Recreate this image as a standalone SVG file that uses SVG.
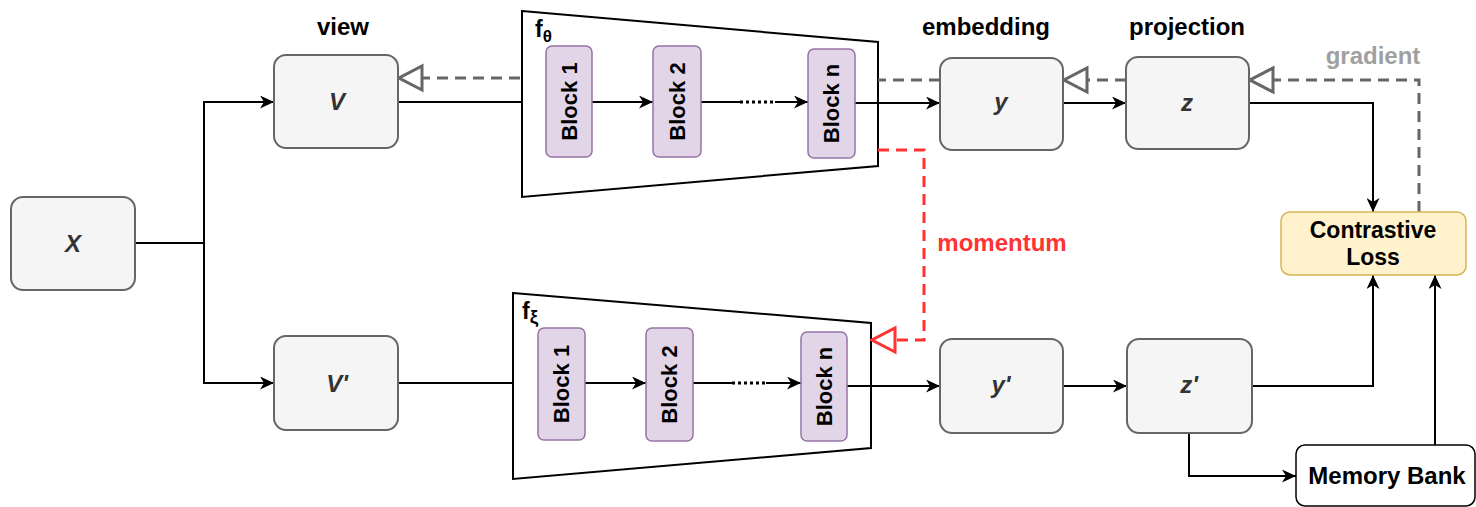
<svg xmlns="http://www.w3.org/2000/svg" width="1476" height="507" viewBox="0 0 1476 507">
  <style>
    .t { font-family: "Liberation Sans", Arial, sans-serif; font-weight: bold; }
    .lbl { font-size: 24px; fill: #000; text-anchor: middle; }
    .var { font-size: 24px; fill: #333; font-style: italic; text-anchor: middle; }
    .blk-t { font-size: 22px; fill: #000; text-anchor: middle; }
    .box { fill: #f5f5f5; stroke: #666; stroke-width: 2; }
    .blk { fill: #e1d5e7; stroke: #9673a6; stroke-width: 1.5; }
    .enc { fill: #fff; stroke: #000; stroke-width: 2; }
    .edge { fill: none; stroke: #000; stroke-width: 2; }
    .dots { fill: none; stroke: #000; stroke-width: 3; stroke-dasharray: 3 3; }
    .grad { fill: none; stroke: #666; stroke-width: 3; stroke-dasharray: 11 7; }
    .mom { fill: none; stroke: #ff3333; stroke-width: 3; stroke-dasharray: 11 7; }
  </style>
  <defs>
    <marker id="arr" markerUnits="userSpaceOnUse" markerWidth="15" markerHeight="13" refX="14" refY="6.5" orient="auto">
      <path d="M0,0 L14,6.5 L0,13 L4,6.5 Z" fill="#000"/>
    </marker>
    <marker id="openGray" markerUnits="userSpaceOnUse" markerWidth="28" markerHeight="30" refX="26" refY="15" orient="auto">
      <path d="M3,3 L26,15 L3,27 Z" fill="#fff" stroke="#666" stroke-width="3"/>
    </marker>
    <marker id="openRed" markerUnits="userSpaceOnUse" markerWidth="28" markerHeight="30" refX="26" refY="15" orient="auto">
      <path d="M3,3 L26,15 L3,27 Z" fill="#fff" stroke="#ff3333" stroke-width="3"/>
    </marker>
  </defs>

  <!-- stage captions -->
  <g id="captions" class="t">
    <text class="lbl" x="343" y="35">view</text>
    <text class="lbl" x="986" y="35">embedding</text>
    <text class="lbl" x="1187" y="35">projection</text>
    <text class="lbl" x="1373" y="64" style="fill:#a0a0a0">gradient</text>
    <text class="lbl" x="1002" y="251" style="fill:#ff3333">momentum</text>
  </g>

  <!-- encoders -->
  <g id="encoder-online">
    <polygon class="enc" points="522,11 878,42 878,166 522,197"/>
    <text class="t" x="535" y="37" font-size="23">f<tspan font-size="17" dy="5">θ</tspan></text>
  </g>
  <g id="encoder-momentum">
    <polygon class="enc" points="513,293 871,323 871,448 513,479"/>
    <text class="t" x="522" y="319" font-size="23">f<tspan font-size="19" dy="4">ξ</tspan></text>
  </g>

  <!-- connectors -->
  <g id="connectors">
    <path class="edge" d="M135,243 H204 V102 H274" marker-end="url(#arr)"/>
    <path class="edge" d="M204,243 V383 H274" marker-end="url(#arr)"/>
    <path class="edge" d="M398,102 H522"/>
    <path class="edge" d="M592,102 H653" marker-end="url(#arr)"/>
    <path class="edge" d="M701,102 H740"/>
    <path class="dots" d="M740,102 H775"/>
    <path class="edge" d="M775,102 H808" marker-end="url(#arr)"/>
    <path class="edge" d="M855,103 H940" marker-end="url(#arr)"/>
    <path class="edge" d="M1063,103 H1126" marker-end="url(#arr)"/>
    <path class="edge" d="M1249,103 H1373 V212" marker-end="url(#arr)"/>

    <path class="edge" d="M398,383 H513"/>
    <path class="edge" d="M585,383 H646" marker-end="url(#arr)"/>
    <path class="edge" d="M693,383 H732"/>
    <path class="dots" d="M732,383 H766"/>
    <path class="edge" d="M766,383 H801" marker-end="url(#arr)"/>
    <path class="edge" d="M847,386 H940" marker-end="url(#arr)"/>
    <path class="edge" d="M1063,386 H1127" marker-end="url(#arr)"/>
    <path class="edge" d="M1252,386 H1373 V275" marker-end="url(#arr)"/>
    <path class="edge" d="M1189,433 V476 H1296" marker-end="url(#arr)"/>
    <path class="edge" d="M1435,445 V275" marker-end="url(#arr)"/>

    <!-- gradient flow (dashed, open heads) -->
    <path class="grad" d="M1419,212 V80 H1250" marker-end="url(#openGray)"/>
    <path class="grad" d="M1126,80 H1064" marker-end="url(#openGray)"/>
    <path class="grad" d="M940,80 H878"/>
    <path class="grad" d="M520,78 H399" marker-end="url(#openGray)"/>

    <!-- momentum update -->
    <path class="mom" d="M878,150 H924 V340 H872" marker-end="url(#openRed)"/>
  </g>

  <!-- nodes -->
  <g id="node-x"><rect class="box" x="11" y="197" width="124" height="93" rx="12"/><text class="t var" x="73" y="252">X</text></g>
  <g id="node-v"><rect class="box" x="274" y="55" width="124" height="93" rx="12"/><text class="t var" x="337" y="110">V</text></g>
  <g id="node-v2"><rect class="box" x="274" y="336" width="124" height="94" rx="12"/><text class="t var" x="337" y="392">V'</text></g>
  <g id="node-y"><rect class="box" x="940" y="58" width="123" height="92" rx="12"/><text class="t var" x="1001" y="110">y</text></g>
  <g id="node-z"><rect class="box" x="1126" y="57" width="123" height="92" rx="12"/><text class="t var" x="1187" y="111">z</text></g>
  <g id="node-y2"><rect class="box" x="940" y="339" width="123" height="94" rx="12"/><text class="t var" x="1001" y="393">y'</text></g>
  <g id="node-z2"><rect class="box" x="1127" y="339" width="125" height="94" rx="12"/><text class="t var" x="1189" y="393">z'</text></g>

  <g id="block-1"><rect class="blk" x="546" y="46" width="46" height="111" rx="6"/><text class="t blk-t" transform="translate(569,101.5) rotate(-90)" dy="0.36em">Block 1</text></g>
  <g id="block-2"><rect class="blk" x="653" y="46" width="48" height="111" rx="6"/><text class="t blk-t" transform="translate(677,101.5) rotate(-90)" dy="0.36em">Block 2</text></g>
  <g id="block-n"><rect class="blk" x="808" y="49" width="47" height="109" rx="6"/><text class="t blk-t" transform="translate(831.5,103.5) rotate(-90)" dy="0.36em">Block n</text></g>
  <g id="block-1b"><rect class="blk" x="538" y="328" width="47" height="112" rx="6"/><text class="t blk-t" transform="translate(561.5,384) rotate(-90)" dy="0.36em">Block 1</text></g>
  <g id="block-2b"><rect class="blk" x="646" y="328" width="47" height="113" rx="6"/><text class="t blk-t" transform="translate(669.5,384.5) rotate(-90)" dy="0.36em">Block 2</text></g>
  <g id="block-nb"><rect class="blk" x="801" y="332" width="46" height="109" rx="6"/><text class="t blk-t" transform="translate(824,386.5) rotate(-90)" dy="0.36em">Block n</text></g>

  <g id="node-loss"><rect x="1281" y="212" width="185" height="63" rx="9" fill="#fff2cc" stroke="#d6b656" stroke-width="1.5"/>
    <text class="t lbl" x="1373" y="238" style="font-size:23px">Contrastive</text>
    <text class="t lbl" x="1373" y="265" style="font-size:23px">Loss</text></g>
  <g id="node-memory"><rect x="1296" y="445" width="179" height="61" rx="9" fill="#fff" stroke="#000" stroke-width="1.5"/>
    <text class="t lbl" x="1387" y="484">Memory Bank</text></g>
</svg>
